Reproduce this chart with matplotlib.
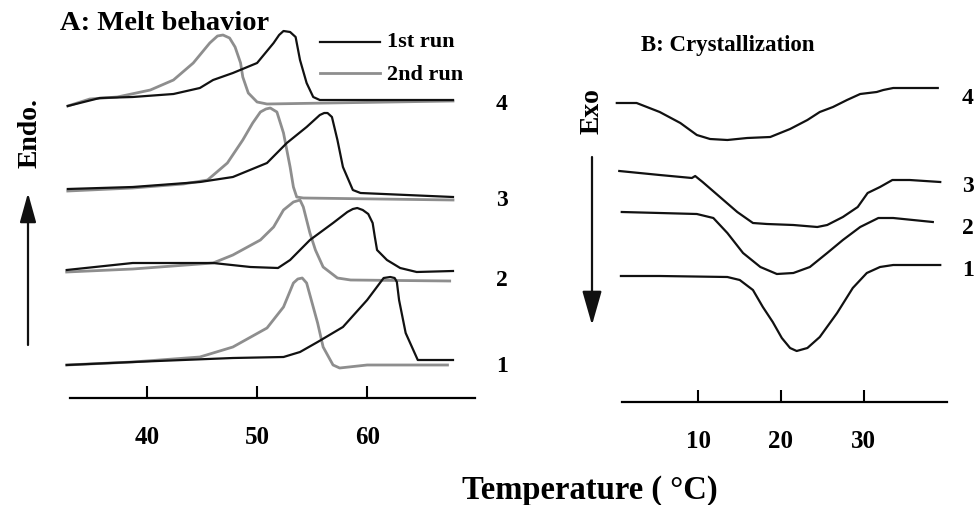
import numpy as np
import matplotlib.pyplot as plt
from matplotlib.patches import FancyArrowPatch

plt.rcParams['font.family'] = ['Liberation Serif', 'DejaVu Serif']
plt.rcParams['font.weight'] = 'bold'

W, H = 974, 505

# ---- A: melting (heat flow, arbitrary units, curves offset) ----
# sample 4
a4_run1_T = [32.8, 35.7, 38.7, 42.4, 44.8, 46.0, 47.8, 50.0, 51.5, 52.0, 52.4, 53.0, 53.5, 53.9, 54.5, 55.1, 55.7, 67.8]
a4_run1_q = [29.2, 30.0, 30.1, 30.4, 31.0, 31.8, 32.5, 33.5, 35.5, 36.3, 36.7, 36.6, 36.1, 33.8, 31.5, 30.1, 29.8, 29.8]
a4_run2_T = [32.8, 34.8, 37.3, 40.3, 42.4, 44.2, 45.7, 46.4, 46.9, 47.5, 48.0, 48.5, 48.7, 49.2, 50.0, 50.9, 67.8]
a4_run2_q = [29.2, 29.9, 30.1, 30.8, 31.8, 33.5, 35.5, 36.2, 36.3, 36.0, 35.1, 33.5, 32.1, 30.5, 29.6, 29.4, 29.7]
# sample 3
a3_run1_T = [32.8, 38.7, 44.8, 47.8, 50.9, 52.7, 54.5, 55.7, 56.1, 56.4, 56.8, 57.3, 57.8, 58.7, 59.4, 67.8]
a3_run1_q = [20.9, 21.1, 21.6, 22.1, 23.5, 25.5, 27.1, 28.3, 28.5, 28.5, 28.1, 25.8, 23.1, 20.8, 20.5, 20.1]
a3_run2_T = [32.8, 38.7, 43.3, 45.5, 47.3, 48.7, 49.6, 50.3, 50.8, 51.2, 51.8, 52.4, 53.0, 53.3, 53.6, 54.2, 67.8]
a3_run2_q = [20.7, 21.0, 21.4, 21.8, 23.5, 25.8, 27.5, 28.6, 28.9, 29.0, 28.6, 26.5, 23.1, 21.1, 20.1, 20.0, 19.8]
# sample 2
a2_run1_T = [32.7, 38.7, 46.0, 49.4, 51.9, 53.0, 54.8, 56.9, 58.2, 58.7, 59.1, 59.6, 60.1, 60.5, 60.7, 60.9, 61.8, 63.0, 64.5, 67.8]
a2_run1_q = [12.8, 13.5, 13.5, 13.1, 13.0, 13.8, 15.8, 17.5, 18.6, 18.9, 19.0, 18.8, 18.4, 17.5, 16.1, 14.8, 13.8, 13.0, 12.6, 12.7]
a2_run2_T = [32.7, 38.7, 46.0, 47.8, 50.3, 51.5, 52.4, 53.3, 53.9, 54.2, 54.8, 55.3, 56.0, 57.3, 58.5, 67.5]
a2_run2_q = [12.6, 12.9, 13.5, 14.3, 15.8, 17.1, 18.8, 19.6, 19.8, 19.1, 16.5, 14.8, 13.1, 12.0, 11.8, 11.7]
# sample 1
a1_run1_T = [32.7, 38.7, 47.8, 52.4, 53.9, 55.5, 57.8, 60.0, 61.5, 62.1, 62.5, 62.7, 62.9, 63.5, 64.6, 67.8]
a1_run1_q = [3.3, 3.6, 4.0, 4.1, 4.6, 5.6, 7.1, 9.8, 12.0, 12.1, 12.0, 11.6, 9.8, 6.5, 3.8, 3.8]
a1_run2_T = [32.7, 38.7, 44.8, 47.8, 50.9, 52.4, 53.3, 53.7, 54.1, 54.5, 55.1, 55.5, 56.0, 56.9, 57.5, 60.0, 67.3]
a1_run2_q = [3.3, 3.6, 4.1, 5.1, 7.0, 9.1, 11.5, 11.9, 12.0, 11.5, 9.1, 7.5, 5.1, 3.3, 3.0, 3.3, 3.3]

# ---- B: crystallization (cooling traces) ----
b4_T = [0.1, 2.5, 5.3, 7.8, 9.8, 11.4, 13.5, 15.9, 18.7, 21.1, 23.2, 24.7, 26.3, 28.0, 29.6, 31.6, 32.4, 33.6, 35.6, 39.0]
b4_q = [29.9, 29.9, 29.0, 27.9, 26.7, 26.3, 26.2, 26.4, 26.5, 27.3, 28.2, 29.0, 29.5, 30.2, 30.8, 31.0, 31.2, 31.4, 31.4, 31.4]
b3_T = [0.4, 5.3, 9.2, 9.6, 10.5, 12.6, 14.7, 16.6, 18.3, 21.5, 24.4, 25.6, 27.5, 29.3, 29.9, 30.5, 32.0, 33.5, 35.6, 39.3]
b3_q = [23.1, 22.7, 22.4, 22.6, 22.0, 20.5, 19.0, 17.9, 17.8, 17.7, 17.5, 17.7, 18.5, 19.5, 20.2, 20.9, 21.5, 22.2, 22.2, 22.0]
b2_T = [0.7, 5.3, 9.8, 11.8, 13.5, 15.4, 17.5, 19.5, 21.5, 23.5, 25.6, 27.5, 29.6, 31.8, 33.6, 38.4]
b2_q = [19.0, 18.9, 18.8, 18.4, 16.9, 14.9, 13.5, 12.8, 12.9, 13.5, 14.9, 16.2, 17.5, 18.4, 18.4, 18.0]
b1_T = [0.6, 5.3, 13.5, 15.0, 16.6, 17.8, 19.0, 20.1, 21.1, 21.9, 23.2, 24.7, 26.8, 28.7, 30.4, 32.0, 33.6, 39.3]
b1_q = [12.6, 12.6, 12.5, 12.2, 11.2, 9.5, 8.0, 6.4, 5.4, 5.1, 5.4, 6.5, 8.9, 11.4, 12.9, 13.5, 13.7, 13.7]

a_ticks = [40, 50, 60]
b_ticks = [10, 20, 30]
labels = ['1', '2', '3', '4']
a_label_y = [367, 280, 200, 105]
b_label_y = [270, 228, 187, 98]

BLACK = '#111111'
GRAY = '#8e8e8e'


def fx(px):
    return px / W


def fy(py):
    return 1 - py / H


fig = plt.figure(figsize=(W / 100, H / 100), dpi=100)

axA = fig.add_axes([fx(70), fy(398), fx(405), 380 / H])
axB = fig.add_axes([fx(622), fy(402), fx(325), 384 / H])
axA.set_xlim(33.0, 69.8)
axA.set_ylim(0, 38)
axB.set_xlim(0.73, 40.12)
axB.set_ylim(0, 38.4)

for ax, ticks in ((axA, a_ticks), (axB, b_ticks)):
    for s in ('top', 'left', 'right'):
        ax.spines[s].set_visible(False)
    ax.spines['bottom'].set_linewidth(1.6)
    ax.set_yticks([])
    ax.set_xticks(ticks)
    ax.tick_params(axis='x', direction='in', length=9, width=1.5, pad=20,
                   labelsize=18)
    for t in ax.get_xticklabels():
        t.set_fontweight('bold')
    ax.patch.set_visible(False)

runs = [
    (a1_run2_T, a1_run2_q), (a2_run2_T, a2_run2_q),
    (a3_run2_T, a3_run2_q), (a4_run2_T, a4_run2_q),
]
for T, q in runs:
    axA.plot(T, q, color=GRAY, lw=2.0, clip_on=False, solid_joinstyle='round')
runs = [
    (a1_run1_T, a1_run1_q), (a2_run1_T, a2_run1_q),
    (a3_run1_T, a3_run1_q), (a4_run1_T, a4_run1_q),
]
for T, q in runs:
    axA.plot(T, q, color=BLACK, lw=1.6, clip_on=False, solid_joinstyle='round')

for T, q in ((b1_T, b1_q), (b2_T, b2_q), (b3_T, b3_q), (b4_T, b4_q)):
    axB.plot(T, q, color=BLACK, lw=1.6, clip_on=False, solid_joinstyle='round')

# sample numbers
for lab, py in zip(labels, a_label_y):
    fig.text(fx(496), fy(py), lab, fontsize=17, fontweight='bold', va='center')
for lab, py in zip(labels, b_label_y):
    fig.text(fx(962), fy(py), lab, fontsize=17, fontweight='bold', va='center')

# legend
fig.add_artist(plt.Line2D([fx(320), fx(380)], [fy(42), fy(42)], color=BLACK, lw=1.6))
fig.add_artist(plt.Line2D([fx(320), fx(380)], [fy(73), fy(73)], color=GRAY, lw=2.0))
fig.text(fx(387), fy(42), '1st run', fontsize=16, fontweight='bold', va='center')
fig.text(fx(387), fy(75), '2nd run', fontsize=16, fontweight='bold', va='center')

# titles
fig.text(fx(60), fy(23), 'A: Melt behavior', fontsize=20.5, fontweight='bold', va='center')
fig.text(fx(641), fy(45), 'B: Crystallization', fontsize=16.5, fontweight='bold', va='center')

# direction arrows
fig.text(fx(30), fy(133), 'Endo.', fontsize=20, fontweight='bold', rotation=90,
         ha='center', va='center')
fig.add_artist(FancyArrowPatch((fx(28), fy(345)), (fx(28), fy(193)),
                               transform=fig.transFigure, arrowstyle='-|>,head_length=18,head_width=5',
                               lw=1.6, color=BLACK, shrinkA=0, shrinkB=0))
fig.text(fx(592), fy(111), 'Exo', fontsize=20, fontweight='bold', rotation=90,
         ha='center', va='center')
fig.add_artist(FancyArrowPatch((fx(592), fy(157)), (fx(592), fy(325)),
                               transform=fig.transFigure, arrowstyle='-|>,head_length=21,head_width=6',
                               lw=1.6, color=BLACK, shrinkA=0, shrinkB=0))

fig.text(fx(590), fy(490), 'Temperature ( \u00b0C)', fontsize=23.5, fontweight='bold',
         ha='center', va='center')

fig.savefig('out.png', dpi=100)
